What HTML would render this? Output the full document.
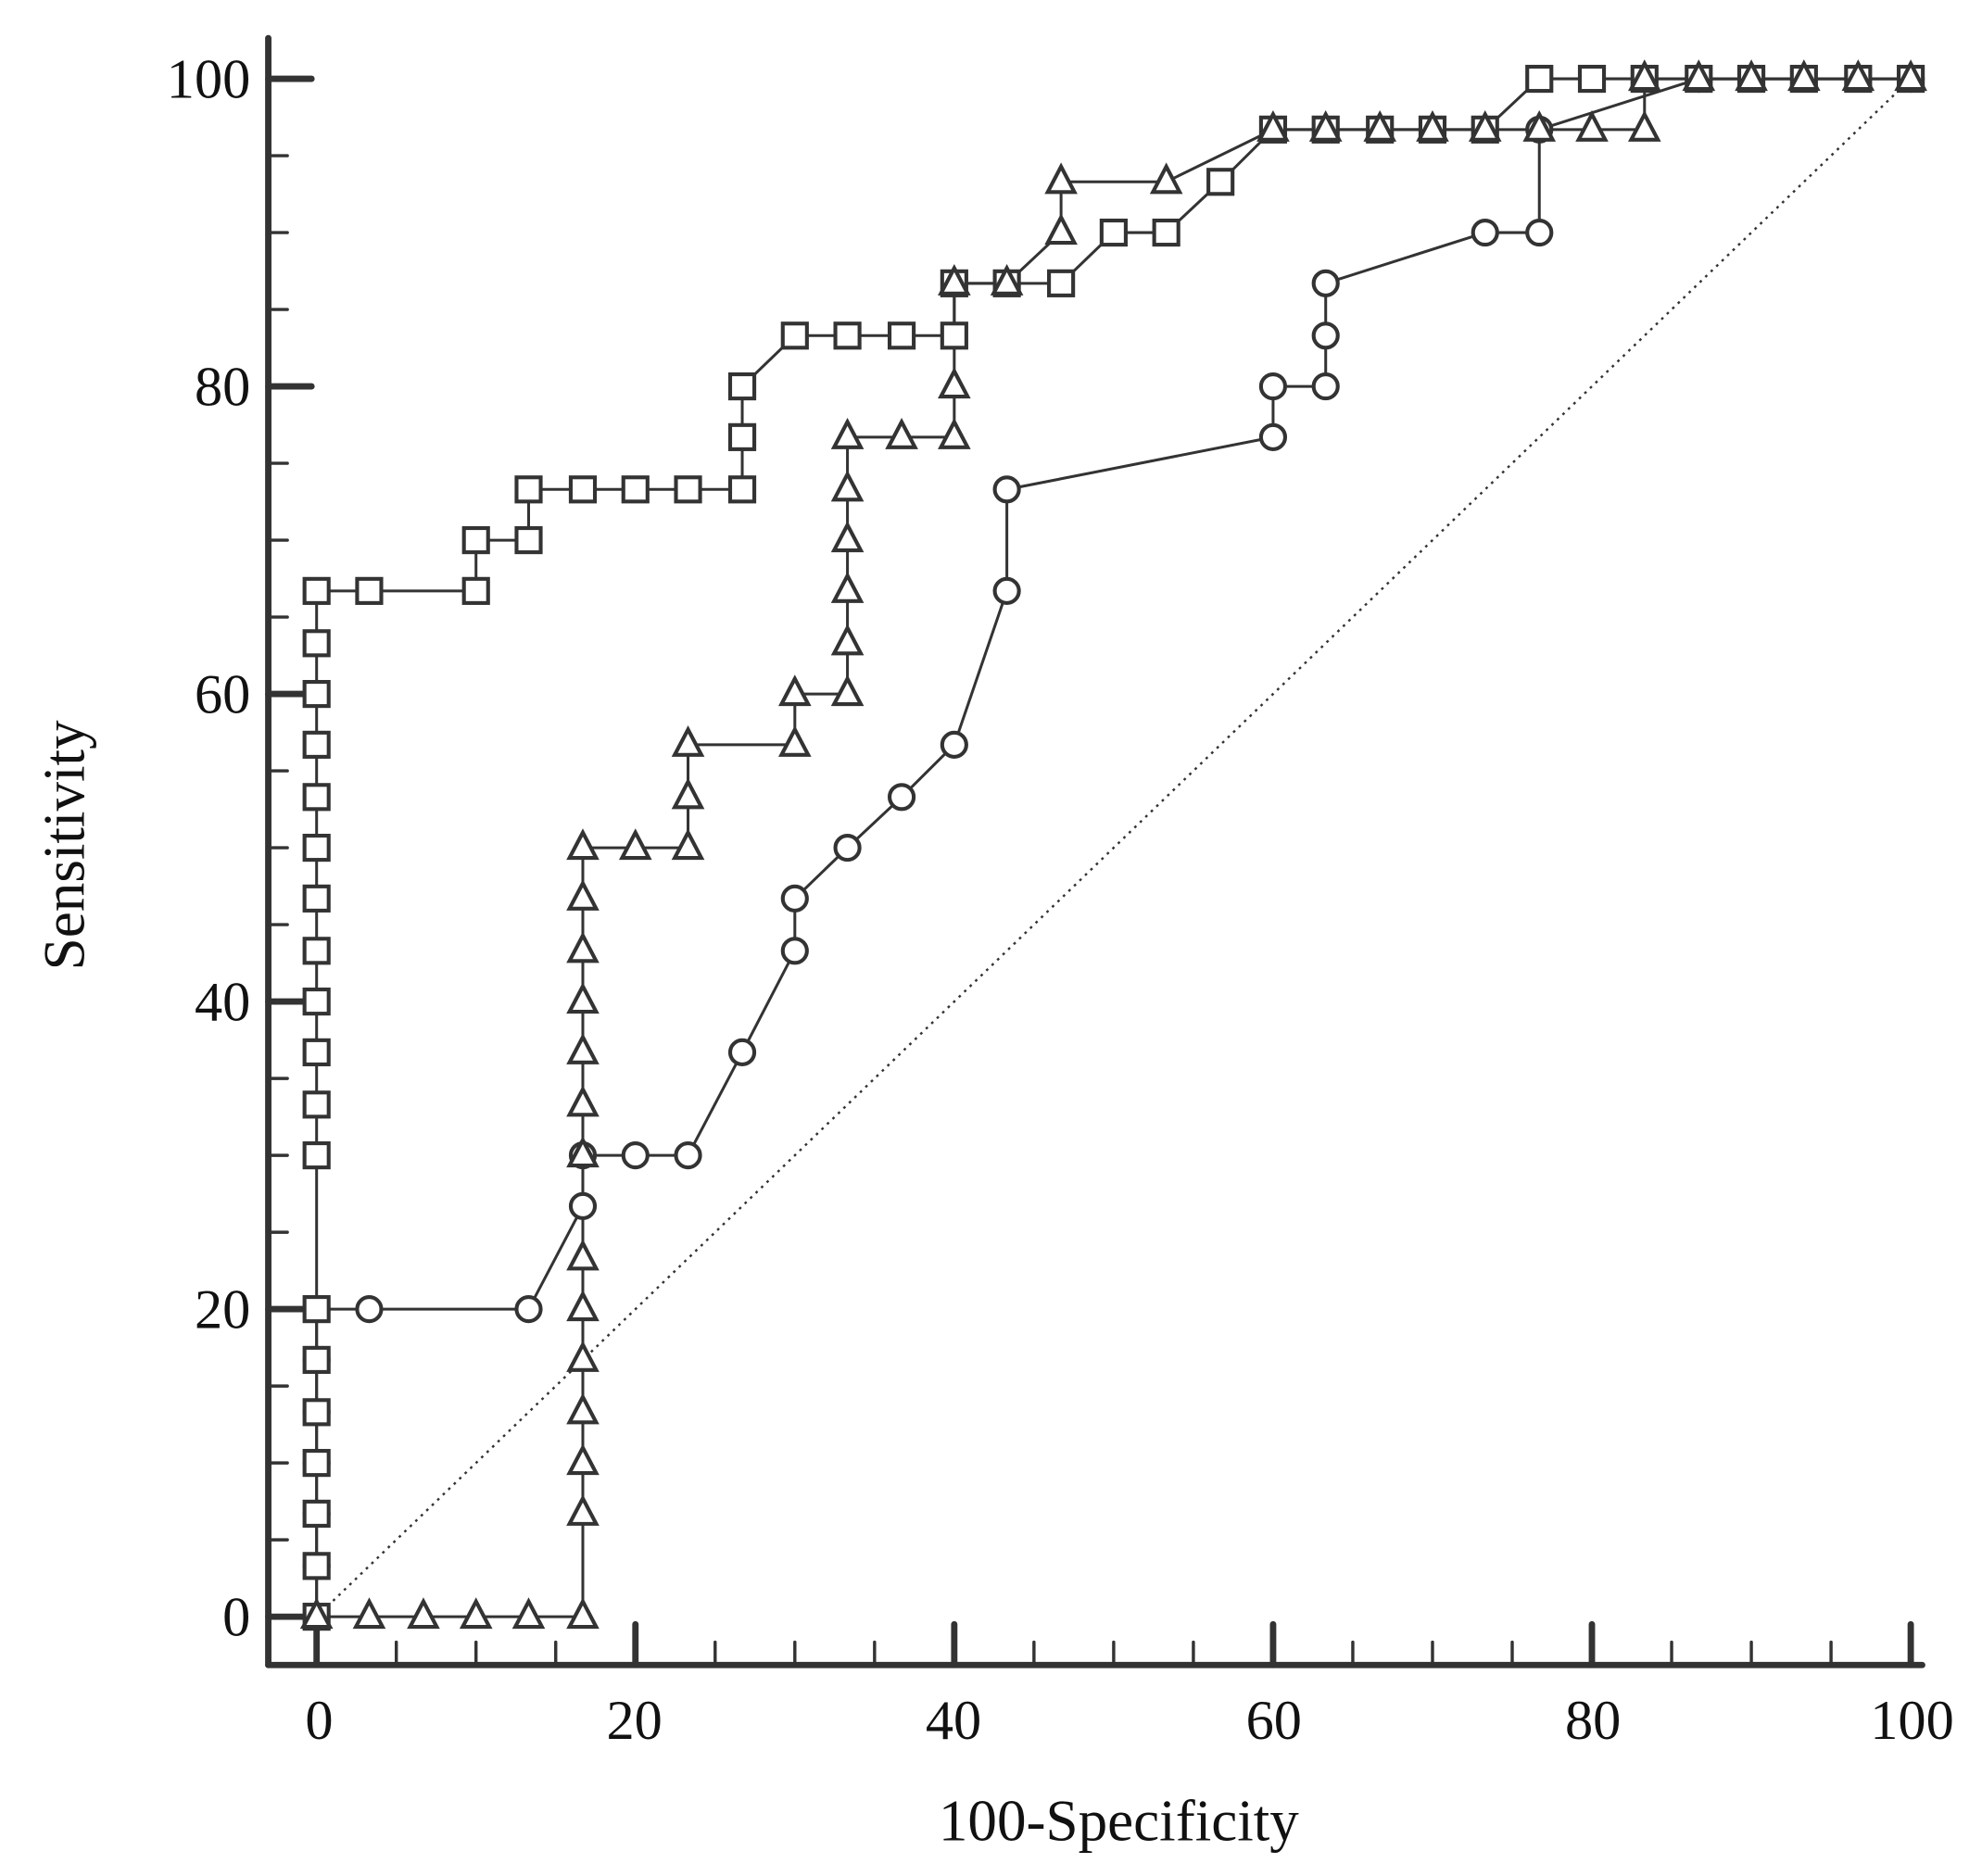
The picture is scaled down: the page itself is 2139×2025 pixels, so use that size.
<!DOCTYPE html>
<html><head><meta charset="utf-8"><style>
html,body{margin:0;padding:0;background:#fff;}
svg{display:block;}
text{font-family:"Liberation Serif",serif;fill:#111;}
</style></head><body>
<svg id="s" width="2139" height="2025" viewBox="0 0 1559 1476" xmlns="http://www.w3.org/2000/svg">
<rect width="1559" height="1476" fill="#fff"/>
<g id="axes" stroke="#333" stroke-linecap="round"></g>
<g id="data"></g>
<g font-size="44" text-anchor="end">
<text x="197" y="77">100</text>
<text x="197" y="319">80</text>
<text x="197" y="561">60</text>
<text x="197" y="803">40</text>
<text x="197" y="1045">20</text>
<text x="197" y="1287">0</text>
</g>
<g font-size="44" text-anchor="middle">
<text x="251" y="1368">0</text>
<text x="499" y="1368">20</text>
<text x="750" y="1368">40</text>
<text x="1002" y="1368">60</text>
<text x="1253" y="1368">80</text>
<text x="1504" y="1368">100</text>
<text x="880" y="1448" font-size="46">100-Specificity</text>
<text transform="translate(66,665) rotate(-90)" font-size="46">Sensitivity</text>
</g>
</svg>
<script>
var NS="http://www.w3.org/2000/svg";
function X(v){return 249+12.54*v;}
function Y(v){return 1272-12.1*v;}
function el(p,t,a){var e=document.createElementNS(NS,t);for(var k in a)e.setAttribute(k,a[k]);p.appendChild(e);return e;}
var ax=document.getElementById('axes'),dg=document.getElementById('data');
el(ax,'line',{x1:211,y1:30,x2:211,y2:1310,'stroke-width':5});
el(ax,'line',{x1:211,y1:1310,x2:1512,y2:1310,'stroke-width':5});
for(var v=0;v<=100;v+=5){var maj=v%20==0;
 el(ax,'line',{x1:211,y1:Y(v),x2:maj?245:226,y2:Y(v),'stroke-width':maj?5:2.5});
 el(ax,'line',{x1:X(v),y1:1310,x2:X(v),y2:maj?1278:1292,'stroke-width':maj?5:2.5});}
el(dg,'line',{x1:X(0),y1:Y(0),x2:X(100),y2:Y(100),stroke:'#333','stroke-width':1.8,'stroke-dasharray':'2,4'});
function t(k){return Math.round(k*1000/30)/10;}
var sq=[];for(var k=0;k<=20;k++){if(k==7||k==8)continue;sq.push([0,t(k)]);}
sq=sq.concat([[3.3,66.7],[10,66.7],[10,70],[13.3,70],[13.3,73.3],[16.7,73.3],[20,73.3],[23.3,73.3],[26.7,73.3],[26.7,76.7],[26.7,80],[30,83.3],[33.3,83.3],[36.7,83.3],[40,83.3],[40,86.7],[43.3,86.7],[46.7,86.7],[50,90],[53.3,90],[56.7,93.3],[60,96.7],[63.3,96.7],[66.7,96.7],[70,96.7],[73.3,96.7],[76.7,100],[80,100],[83.3,100],[86.7,100],[90,100],[93.3,100],[96.7,100],[100,100]]);
var tr=[[0,0],[3.3,0],[6.7,0],[10,0],[13.3,0],[16.7,0],[16.7,6.7],[16.7,10],[16.7,13.3],[16.7,16.7],[16.7,20],[16.7,23.3],[16.7,30],[16.7,33.3],[16.7,36.7],[16.7,40],[16.7,43.3],[16.7,46.7],[16.7,50],[20,50],[23.3,50],[23.3,53.3],[23.3,56.7],[30,56.7],[30,60],[33.3,60],[33.3,63.3],[33.3,66.7],[33.3,70],[33.3,73.3],[33.3,76.7],[36.7,76.7],[40,76.7],[40,80],[40,86.7],[43.3,86.7],[46.7,90],[46.7,93.3],[53.3,93.3],[60,96.7],[63.3,96.7],[66.7,96.7],[70,96.7],[73.3,96.7],[76.7,96.7],[80,96.7],[83.3,96.7],[83.3,100],[86.7,100],[90,100],[93.3,100],[96.7,100],[100,100]];
var ci=[];for(var k=0;k<=6;k++)ci.push([0,t(k)]);
ci=ci.concat([[3.3,20],[13.3,20],[16.7,26.7],[16.7,30],[20,30],[23.3,30],[26.7,36.7],[30,43.3],[30,46.7],[33.3,50],[36.7,53.3],[40,56.7],[43.3,66.7],[43.3,73.3],[60,76.7],[60,80],[63.3,80],[63.3,83.3],[63.3,86.7],[73.3,90],[76.7,90],[76.7,96.7],[86.7,100],[100,100]]);
function line(a){el(dg,'polyline',{points:a.map(function(p){return X(p[0])+','+Y(p[1]);}).join(' '),fill:'none',stroke:'#333','stroke-width':2.2});}
line(sq);line(tr);line(ci);
var st={fill:'#fff',stroke:'#333','stroke-width':3};
ci.forEach(function(p){var a=Object.assign({cx:X(p[0]),cy:Y(p[1]),r:9.5},st);el(dg,'circle',a);});
sq.forEach(function(p){var a=Object.assign({x:X(p[0])-9.5,y:Y(p[1])-9.5,width:19,height:19},st);el(dg,'rect',a);});
tr.forEach(function(p){var x=X(p[0]),y=Y(p[1]);var a=Object.assign({points:x+','+(y-12)+' '+(x-10.5)+','+(y+8)+' '+(x+10.5)+','+(y+8)},st);el(dg,'polygon',a);});
</script>
</body></html>
